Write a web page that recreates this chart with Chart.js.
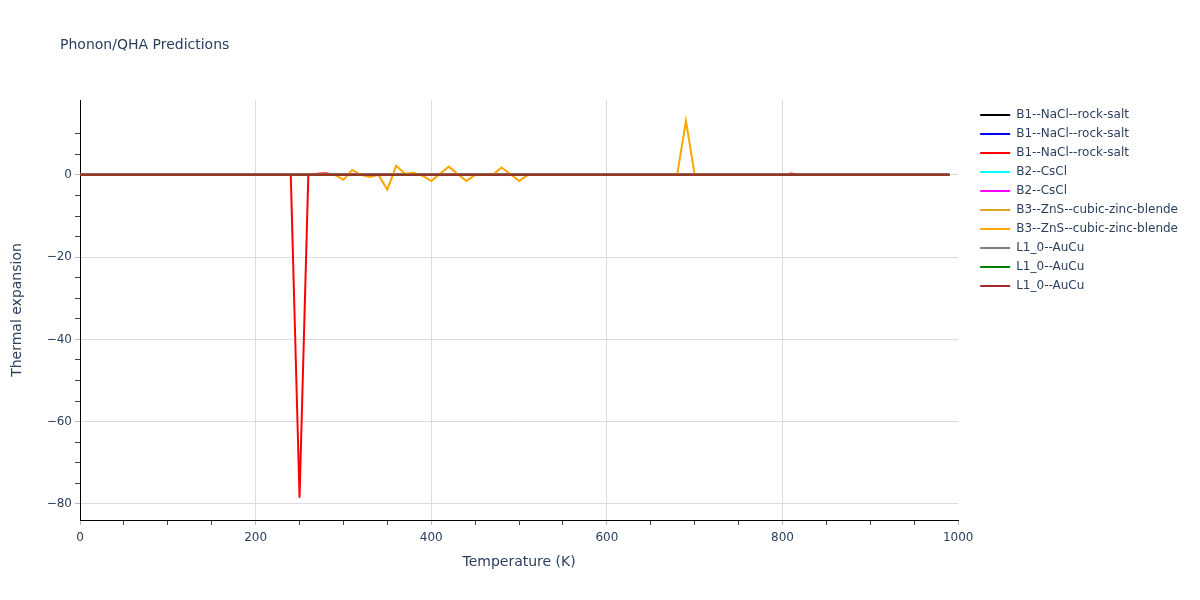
<!DOCTYPE html>
<html>
<head>
<meta charset="utf-8">
<script src="https://cdn.jsdelivr.net/npm/chart.js@4.4.1/dist/chart.umd.min.js"></script>
<style>
  html, body { margin: 0; padding: 0; background: #fff; }
  #wrap { width: 1200px; height: 600px; }
</style>
</head>
<body>
<div id="wrap"><canvas id="chart" width="1200" height="600"></canvas></div>
<script>
// series names and colours, in legend order
const seriesNames = [
    'B1--NaCl--rock-salt', 'B1--NaCl--rock-salt', 'B1--NaCl--rock-salt',
    'B2--CsCl', 'B2--CsCl',
    'B3--ZnS--cubic-zinc-blende', 'B3--ZnS--cubic-zinc-blende',
    'L1_0--AuCu', 'L1_0--AuCu', 'L1_0--AuCu'
];
const seriesColors = ['#000000', '#0000ff', '#ff0000', '#00ffff', '#ff00ff',
    '#daa520', '#ffa500', '#808080', '#008000', '#a52a2a'];

// flat series (thermal expansion ~ 0 over the whole range)
const flatTemps = [0, 990];
const flatValues = [0, 0];

// B1 (red) - big negative spike near 250 K
const redTemps = [0, 240, 250, 260, 270, 280, 290, 800, 810, 820, 990];
const redValues = [0, 0, -78.5, 0, 0.3, 0.4, 0, 0, 0.3, 0, 0];

// B3 (orange) - noisy between 290 and 510 K, spike at 690 K
const orangeTemps = [0, 290, 300, 310, 320, 330, 340, 350, 360, 370, 380, 390, 400, 410,
    420, 430, 440, 450, 470, 480, 490, 500, 510, 680, 690, 700, 990];
const orangeValues = [0, 0, -1.2, 1.2, 0, -0.5, 0, -3.6, 2.2, 0.3, 0.5, -0.2, -1.5, 0.25,
    2.0, 0.2, -1.5, 0, 0, 1.8, 0.2, -1.5, 0, 0, 13.1, 0, 0];

const xTicks = [0, 200, 400, 600, 800, 1000];
const yTicks = [-80, -60, -40, -20, 0];

const textColor = '#2a3f5f';
const gridColor = '#dcdcdc';
const fontFamily = '"DejaVu Sans", Verdana, sans-serif';
Chart.defaults.font.family = fontFamily;
Chart.defaults.color = textColor;

function toPoints(xs, ys) {
    return xs.map((x, i) => ({ x: x, y: ys[i] }));
}

const seriesData = seriesNames.map((n, i) => {
    if (i === 2) return toPoints(redTemps, redValues);
    if (i === 6) return toPoints(orangeTemps, orangeValues);
    return toPoints(flatTemps, flatValues);
});

const datasets = seriesNames.map((name, i) => ({
    label: name,
    data: seriesData[i],
    borderColor: seriesColors[i],
    backgroundColor: seriesColors[i],
    borderWidth: 2,
    pointRadius: 0,
    tension: 0,
    order: seriesNames.length - 1 - i   // last trace on top, like plotly
}));

const minus = v => (v < 0 ? '\u2212' + Math.abs(v) : String(v));

const titlePlugin = {
    id: 'plotTitle',
    afterLayout(chart) {
        // leave a small gap between plot area and legend
        chart.legend.left += 15;
        chart.legend.right += 15;
        chart.legend.top += 2;
        chart.legend.bottom += 2;
    },
    afterDraw(chart) {
        const ctx = chart.ctx;
        ctx.save();
        ctx.font = '14px ' + fontFamily;
        ctx.fillStyle = textColor;
        ctx.textBaseline = 'middle';
        ctx.textAlign = 'left';
        ctx.fillText('Phonon/QHA Predictions', 60, 45);
        ctx.restore();
    }
};

const ctx = document.getElementById('chart').getContext('2d');
new Chart(ctx, {
    type: 'line',
    data: { datasets: datasets },
    plugins: [titlePlugin],
    options: {
        responsive: false,
        animation: false,
        layout: { padding: { left: 0, top: 100, right: 27, bottom: 0 } },
        scales: {
            x: {
                type: 'linear',
                min: 0,
                max: 1000,
                afterFit: s => { s.height = 80; },
                ticks: {
                    stepSize: 50,
                    autoSkip: false,
                    maxRotation: 0,
                    padding: 6,
                    font: { size: 12 },
                    color: textColor,
                    callback: v => (xTicks.includes(v) ? String(v) : '')
                },
                grid: {
                    color: c => (c.tick && c.tick.value % 200 === 0 && c.tick.value > 0 && c.tick.value < 1000 ? gridColor : 'rgba(0,0,0,0)'),
                    tickColor: c => (c.tick && c.tick.value % 200 === 0 ? '#bbbbbb' : '#444444'),
                    tickLength: 5,
                    drawTicks: true
                },
                border: { display: true, color: '#000000', width: 1 },
                title: {
                    display: true,
                    text: 'Temperature (K)',
                    font: { size: 14 },
                    color: textColor,
                    padding: { top: 0, bottom: 29 }
                }
            },
            y: {
                min: -83.9,
                max: 18.2,
                afterFit: s => { s.width = 80; },
                afterBuildTicks: s => {
                    s.ticks = s.ticks.filter(t => Math.abs(Math.round(t.value / 5) * 5 - t.value) < 1e-9);
                },
                ticks: {
                    stepSize: 5,
                    autoSkip: false,
                    padding: 3,
                    font: { size: 12 },
                    color: textColor,
                    callback: v => (yTicks.includes(v) ? minus(v) : '')
                },
                grid: {
                    color: c => (c.tick && c.tick.value % 20 === 0 ? gridColor : 'rgba(0,0,0,0)'),
                    tickColor: c => (c.tick && c.tick.value % 20 === 0 ? '#bbbbbb' : '#444444'),
                    tickLength: 5,
                    drawTicks: true
                },
                border: { display: true, color: '#000000', width: 1 },
                title: {
                    display: true,
                    text: 'Thermal expansion',
                    font: { size: 14 },
                    color: textColor,
                    padding: { top: 9, bottom: 0 }
                }
            }
        },
        plugins: {
            title: { display: false },
            tooltip: { enabled: false },
            legend: {
                position: 'right',
                align: 'start',
                labels: {
                    usePointStyle: true,
                    pointStyle: 'line',
                    pointStyleWidth: 30,
                    boxWidth: 30,
                    padding: 7,
                    font: { size: 12 },
                    color: textColor,
                    sort: (a, b) => a.datasetIndex - b.datasetIndex
                }
            }
        }
    }
});
</script>
</body>
</html>
